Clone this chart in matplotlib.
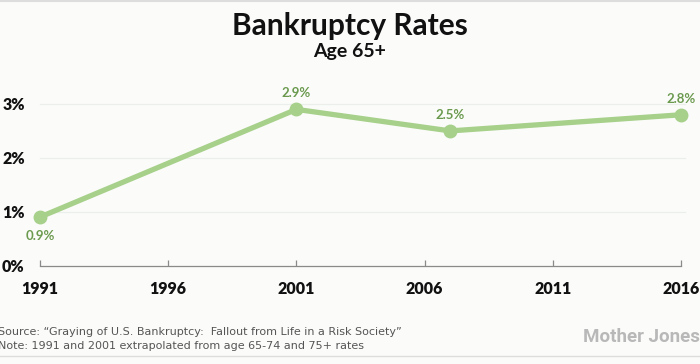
import matplotlib.pyplot as plt
from matplotlib.lines import Line2D

# data
years = [1991, 2001, 2007, 2016]
rates = [0.9, 2.9, 2.5, 2.8]
labels = ["0.9%", "2.9%", "2.5%", "2.8%"]
xticks = [1991, 1996, 2001, 2006, 2011, 2016]
yticks = [0, 1, 2, 3]
ytick_labels = ["0%", "1%", "2%", "3%"]

line_color = "#a7d08b"
label_color = "#6b9a4f"
bg = "#fbfcfa"

fig = plt.figure(figsize=(7, 3.64), dpi=100, facecolor=bg)
W, H = 700, 364
left, right = 40 / W, 681 / W
bottom, top = (H - 265.5) / H, (H - 104) / H
ax = fig.add_axes([left, bottom, right - left, top - bottom])
ax.set_facecolor(bg)
ax.set_xlim(1991, 2016)
ax.set_ylim(0, 3)

# gridlines
for v in yticks[1:]:
    ax.axhline(v, color="#ebeeea", lw=0.9, zorder=0, clip_on=False, xmax=1.006)

# series
ax.plot(years, rates, color=line_color, lw=3.8, marker="o", ms=9,
        solid_capstyle="round", clip_on=False, zorder=3)

for x, y, t in zip(years, rates, labels):
    dy = -14 if x == 1991 else 11.5
    ax.annotate(t, (x, y), xytext=(0, dy), textcoords="offset points",
                ha="center", va="center", fontsize=9.5, color=label_color,
                family="Lato", fontweight="bold")

# axes styling
for s in ["top", "right", "left"]:
    ax.spines[s].set_visible(False)
ax.spines["bottom"].set_color("#8a8a8a")
ax.spines["bottom"].set_linewidth(0.9)
ax.set_xticks(xticks)
ax.set_xticklabels([str(t) for t in xticks], family="Lato", fontweight="heavy",
                   fontsize=11.5, color="#111111")
ax.tick_params(axis="x", direction="in", length=4, width=0.9, color="#8a8a8a", pad=11)
ax.set_yticks(yticks)
ax.set_yticklabels(ytick_labels, family="Lato", fontweight="heavy",
                   fontsize=11.5, color="#111111")
ax.tick_params(axis="y", length=0, pad=11)

# titles
fig.text(0.5, 1 - 26 / H, "Bankruptcy Rates", ha="center", va="center",
         family="Lato", fontweight="bold", fontsize=21.5, color="#111111")
fig.text(0.5, 1 - 52 / H, "Age 65+", ha="center", va="center",
         family="Lato", fontweight="bold", fontsize=14, color="#111111")

# footer
fig.text(-2 / W, 1 - 332 / H,
         "Source: \u201cGraying of U.S. Bankruptcy:  Fallout from Life in a Risk Society\u201d",
         ha="left", va="center", family="DejaVu Sans", fontsize=8, color="#555555")
fig.text(-2 / W, 1 - 346 / H,
         "Note: 1991 and 2001 extrapolated from age 65-74 and 75+ rates",
         ha="left", va="center", family="DejaVu Sans", fontsize=8, color="#555555")
fig.text(1.0, 1 - 337 / H, "Mother Jones", ha="right", va="center",
         family="Roboto", fontweight="bold", fontsize=13.5, color="#b8b8b8")

# thin borders top and bottom
fig.add_artist(Line2D([0, 1], [1 - 1 / H, 1 - 1 / H], color="#dddddd", lw=1.5))
fig.add_artist(Line2D([0, 1], [1 - 356 / H, 1 - 356 / H], color="#dddddd", lw=1))

fig.savefig("out.png", dpi=100, facecolor=bg)
